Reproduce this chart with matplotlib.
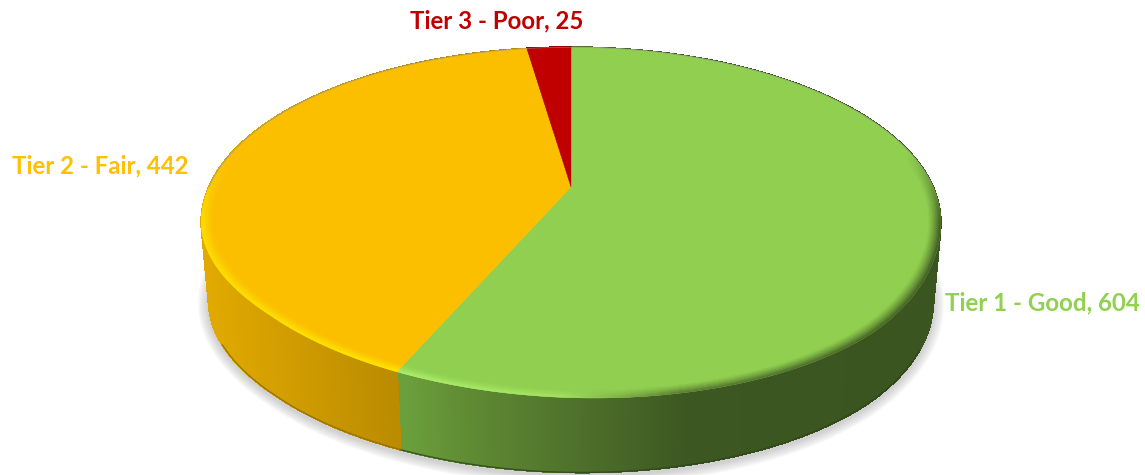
import numpy as np
import matplotlib
matplotlib.use('Agg')
import matplotlib.pyplot as plt
from matplotlib.collections import PolyCollection
from matplotlib.colors import to_rgb

# data
tiers = ['Tier 1 - Good', 'Tier 2 - Fair', 'Tier 3 - Poor']
counts = [604, 442, 25]

# colours
face_colors = ['#90CF4F', '#FBBF00', '#C00000']
label_colors = ['#92D050', '#FFC000', '#C00000']
side_x = [[403, 470, 570, 690, 1000], [200, 403], [200, 403]]
side_colors = [['#6B9F3C', '#5F8A33', '#4F722C', '#3C5721', '#3A5420'],
               ['#E2AA00', '#B98A00'],
               ['#900000', '#900000']]
bevel_x = [[400, 560, 680, 1000], [200, 403], [200, 403]]
bevel_colors = [['#ACEE6C', '#A4E462', '#5A7F33', '#3F5A23'],
                ['#FFDE00', '#FFE600'],
                ['#C00000', '#C00000']]
outline_colors = ['#2F4419', '#8F6B00', '#900000']

# pie geometry (pixels), simple perspective
APEX_X, APEX_Y = 571, 187
A, B, P = 362.0, 168.0, 0.2023
SHEAR = 0.03
label_pos = [(1042, 303), (100, 166), (497, 21)]


def rim(theta, r=1.0, drop=0.0, scale=1.0, shear=SHEAR):
    # theta in radians, clockwise from the top
    u = r * np.sin(theta)
    v = -r * np.cos(theta)
    d = 1 - P * v
    x = A * u / d
    y = B * v / d
    # the front of the pie leans a little, left side up, right side down
    y = y + shear * x * np.clip((v - 0.2) / 0.5, 0, 1)
    return APEX_X + x * scale, APEX_Y + y * scale + drop


def ramp(xs, stops, colors):
    rgb = np.array([to_rgb(c) for c in colors])
    return np.column_stack([np.interp(xs, stops, rgb[:, i]) for i in range(3)])


fig = plt.figure(figsize=(11.45, 4.75), dpi=100)
ax = fig.add_axes([0, 0, 1, 1])
ax.set_xlim(0, 1145)
ax.set_ylim(475, 0)
ax.axis('off')

edges = np.concatenate([[0], np.cumsum(counts)]) / sum(counts) * 2 * np.pi

# soft shadow under the pie
circle = np.linspace(0, 2 * np.pi, 361)
for grow in np.linspace(11, 1, 11):
    sx, sy = rim(circle, drop=79, scale=0.98, shear=0.015)
    sx = APEX_X + (sx - APEX_X) * (1 + grow / 362)
    sy = sy + 3 + (sy - 300) * grow / 185
    ax.fill(sx, sy, color='#808080', alpha=0.035, lw=0, zorder=1)

# side wall
for i in range(len(counts)):
    t = np.linspace(edges[i], edges[i + 1], int(np.degrees(edges[i + 1] - edges[i]) * 4) + 2)
    x1, y1 = rim(t)
    x2, y2 = rim(t, drop=79, scale=0.98, shear=0.015)
    quads = [[(x1[k], y1[k]), (x1[k + 1], y1[k + 1]), (x2[k + 1], y2[k + 1]), (x2[k], y2[k])]
             for k in range(len(t) - 1)]
    cols = ramp((x1[:-1] + x1[1:]) / 2, side_x[i], side_colors[i])
    ax.add_collection(PolyCollection(quads, facecolors=cols, edgecolors=cols, linewidths=0.8,
                                     antialiaseds=False, zorder=2))
    front = np.cos(t) < -0.45
    ax.plot(x2[front], y2[front], color=outline_colors[i], lw=1.0, alpha=0.8, zorder=2.5)

# top faces
for i in range(len(counts)):
    t = np.linspace(edges[i], edges[i + 1], 400)
    x, y = rim(t)
    ax.fill(np.r_[APEX_X, x], np.r_[APEX_Y, y], color=face_colors[i], lw=0.3, zorder=3)

# bevel band along the rim
radii = np.linspace(0.965, 1.0, 10)
for i in range(len(counts)):
    t = np.linspace(edges[i], edges[i + 1], int(np.degrees(edges[i + 1] - edges[i]) * 2) + 2)
    tm = (t[:-1] + t[1:]) / 2
    base = np.array(to_rgb(face_colors[i]))
    strength = np.clip((-np.cos(tm) + 0.2) / 0.4, 0, 1)
    edge_col = ramp(rim(tm)[0], bevel_x[i], bevel_colors[i])
    for j in range(len(radii) - 1):
        xa, ya = rim(t, r=radii[j])
        xb, yb = rim(t, r=radii[j + 1])
        quads = [[(xa[k], ya[k]), (xa[k + 1], ya[k + 1]), (xb[k + 1], yb[k + 1]), (xb[k], yb[k])]
                 for k in range(len(t) - 1)]
        w = (j / (len(radii) - 2)) ** 1.3 * strength[:, None]
        cols = np.clip(base * (1 - w) + edge_col * w, 0, 1)
        ax.add_collection(PolyCollection(quads, facecolors=cols, edgecolors=cols, linewidths=0.3, zorder=4))

# thin grey line on the back of the rim
back = np.linspace(-np.pi / 2, np.pi / 2, 200)
bx, by = rim(back)
ax.plot(bx, by, color='#909090', lw=0.6, alpha=0.6, zorder=5)

# labels
for i in range(len(counts)):
    ax.text(label_pos[i][0], label_pos[i][1], f'{tiers[i]}, {counts[i]}', color=label_colors[i],
            family='Lato', fontweight='bold', fontsize=17.3, ha='center', va='center', zorder=6)

fig.savefig('out.png', dpi=100)
